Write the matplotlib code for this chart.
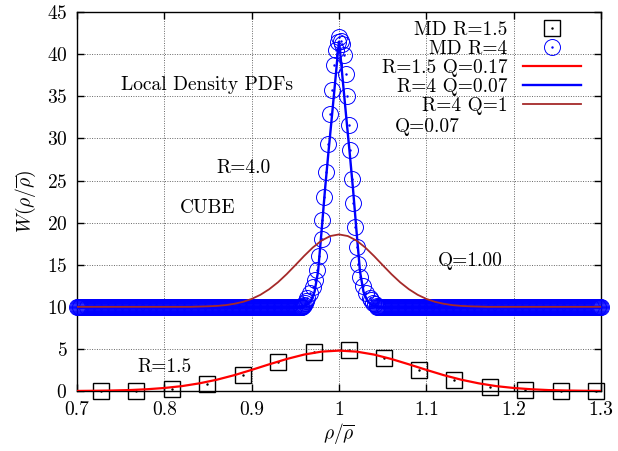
import numpy as np
import matplotlib
matplotlib.use('Agg')
import matplotlib.pyplot as plt

plt.rcParams['font.family'] = ['cmr10', 'DejaVu Serif']
plt.rcParams['mathtext.fontset'] = 'cm'
plt.rcParams['axes.formatter.use_mathtext'] = True
plt.rcParams['font.size'] = 14

# MD R=1.5 (squares)
sq_x = [0.728, 0.768, 0.8085, 0.849, 0.890, 0.930, 0.971, 1.011, 1.052, 1.092,
        1.132, 1.173, 1.213, 1.254, 1.294]
sq_y = [0.0, 0.05, 0.25, 0.8, 1.95, 3.45, 4.65, 4.85, 3.95, 2.5,
        1.25, 0.5, 0.1, 0.0, 0.0]

# MD R=4 (circles) - peak part
ci_x = [0.959, 0.960, 0.961, 0.962, 0.9635, 0.9665, 0.970, 0.9725, 0.975, 0.9775,
        0.980, 0.981, 0.983, 0.9855, 0.9875, 0.990, 0.9915, 0.9945, 0.996, 0.9985,
        1.000, 1.002, 1.003, 1.006, 1.0075, 1.0095, 1.011, 1.0125, 1.015, 1.0165,
        1.018, 1.020, 1.022, 1.024, 1.027, 1.031, 1.035, 1.037, 1.039, 1.041, 1.043]
ci_y = [10.1, 10.2, 10.4, 10.7, 11.0, 11.7, 12.4, 13.2, 14.4, 16.0,
        18.1, 20.3, 23.1, 26.0, 29.4, 32.9, 35.7, 38.7, 40.5, 41.5,
        42.0, 41.6, 41.2, 39.9, 37.7, 35.0, 31.6, 28.6, 25.2, 22.3,
        19.5, 17.1, 15.1, 13.5, 12.5, 11.7, 11.1, 10.8, 10.5, 10.3, 10.1]
# baseline part of the circles
base_left_x = np.arange(0.700, 0.9585, 0.001)
base_right_x = np.arange(1.044, 1.3005, 0.001)
base_level = 10.0

# R=1.5 Q=0.17 (red)
red_x = np.round(np.arange(0.70, 1.301, 0.02), 3)
red_y = [0.01, 0.03, 0.06, 0.11, 0.21, 0.36, 0.58, 0.91, 1.34, 1.88, 2.51,
         3.17, 3.80, 4.33, 4.68, 4.80, 4.68, 4.33, 3.80, 3.17, 2.51,
         1.88, 1.34, 0.91, 0.58, 0.36, 0.21, 0.11, 0.06, 0.03, 0.01]

# R=4 Q=0.07 (blue)
blue_x = [0.700, 0.950, 0.960, 0.964, 0.968, 0.972, 0.976, 0.980, 0.984, 0.988,
          0.992, 0.996, 0.999, 1.000, 1.001, 1.004, 1.008, 1.012, 1.016, 1.020,
          1.024, 1.028, 1.032, 1.036, 1.040, 1.050, 1.300]
blue_y = [10.0, 10.0, 10.1, 10.3, 10.8, 11.8, 14.2, 19.0, 24.0, 28.5,
          32.8, 37.2, 40.6, 41.5, 40.6, 37.2, 32.8, 28.5, 24.0, 19.0,
          14.2, 11.8, 10.8, 10.3, 10.1, 10.0, 10.0]

# R=4 Q=1 (brown)
brown_x = np.round(np.arange(0.70, 1.301, 0.01), 3)
brown_y = [10.0] * 14 + [10.03, 10.06, 10.11, 10.20, 10.36, 10.59, 10.94, 11.43,
           12.09, 12.91, 13.88, 14.95, 16.04, 17.05, 17.87, 18.41, 18.6,
           18.41, 17.87, 17.05, 16.04, 14.95, 13.88, 12.91, 12.09, 11.43,
           10.94, 10.59, 10.36, 10.20, 10.11, 10.06, 10.03] + [10.0] * 14

xticks = [0.7, 0.8, 0.9, 1.0, 1.1, 1.2, 1.3]
xticklabels = ['0.7', '0.8', '0.9', '1', '1.1', '1.2', '1.3']
yticks = [0, 5, 10, 15, 20, 25, 30, 35, 40, 45]

fig = plt.figure(figsize=(6.18, 4.51), dpi=100)
ax = fig.add_axes([0.1246, 0.133, 0.848, 0.840])

ax.grid(True, linestyle=(0, (1, 1.5)), color='0.4', linewidth=0.7)
ax.set_axisbelow(True)

sq, = ax.plot(sq_x, sq_y, 's', ms=12, mfc='none', mec='black', mew=1.0,
              clip_on=False, zorder=3)
sqd, = ax.plot(sq_x, sq_y, '.', ms=1.5, color='black', clip_on=False, zorder=3)

cx = np.concatenate([base_left_x, ci_x, base_right_x])
cy = np.concatenate([[base_level] * len(base_left_x), ci_y, [base_level] * len(base_right_x)])
ci, = ax.plot(cx, cy, 'o', ms=11.5, mfc='none', mec='#0000ff', mew=0.7,
              clip_on=False, zorder=3)
cid, = ax.plot(cx, cy, '.', ms=1.5, color='#0000ff', clip_on=False, zorder=3)

lr, = ax.plot(red_x, red_y, color='#ff0000', lw=1.6, zorder=4)
lb, = ax.plot(blue_x, blue_y, color='#0000ff', lw=1.7, zorder=4)
lbr, = ax.plot(brown_x, brown_y, color='#a52a2a', lw=1.3, zorder=4)

ax.set_xlim(0.7, 1.3)
ax.set_ylim(0, 45)
ax.set_xticks(xticks)
ax.set_xticklabels(xticklabels)
ax.set_yticks(yticks)
ax.tick_params(direction='in', top=True, right=True, length=5, width=1, pad=7)
for s in ax.spines.values():
    s.set_linewidth(1.0)

ax.set_xlabel(r'$\rho/\overline{\rho}$', labelpad=2)
ax.set_ylabel(r'$W(\rho/\overline{\rho})$', labelpad=6)

ax.text(0.750, 36.4, 'Local Density PDFs', ha='left', va='center')
ax.text(0.859, 26.5, 'R=4.0', ha='left', va='center')
ax.text(0.818, 21.7, 'CUBE', ha='left', va='center')
ax.text(1.064, 31.4, 'Q=0.07', ha='left', va='center')
ax.text(1.113, 15.5, 'Q=1.00', ha='left', va='center')
ax.text(0.769, 2.8, 'R=1.5', ha='left', va='center')

ax.legend([(sq, sqd), (ci, cid), lr, lb, lbr],
          ['MD R=1.5', 'MD R=4', 'R=1.5 Q=0.17', 'R=4 Q=0.07', 'R=4 Q=1'],
          loc='upper right', bbox_to_anchor=(0.962, 0.976), frameon=False,
          markerfirst=False, handlelength=3.0, labelspacing=0.05,
          handletextpad=0.8, borderaxespad=0, borderpad=0)

fig.savefig('out.png', dpi=100)
